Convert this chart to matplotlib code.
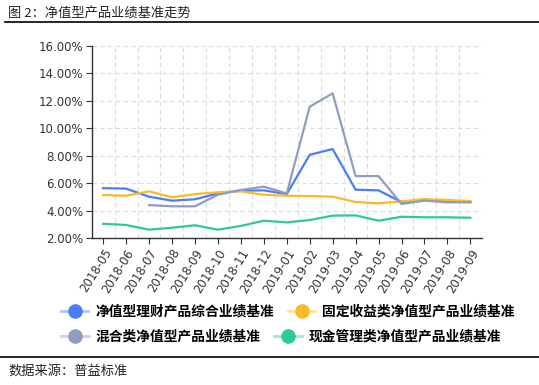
import numpy as np
import matplotlib
matplotlib.use("Agg")
from matplotlib import pyplot as plt
from matplotlib.lines import Line2D
from matplotlib.colors import to_rgb
from matplotlib.ticker import FuncFormatter, FixedLocator

plt.rcParams['font.family'] = ['DejaVu Sans', 'Noto Sans CJK SC']

months = ['2018-05', '2018-06', '2018-07', '2018-08', '2018-09', '2018-10',
          '2018-11', '2018-12', '2019-01', '2019-02', '2019-03', '2019-04',
          '2019-05', '2019-06', '2019-07', '2019-08', '2019-09']

# values in %
zonghe = [5.65, 5.62, 5.03, 4.74, 4.84, 5.27, 5.47, 5.49, 5.22, 8.08, 8.50,
          5.54, 5.49, 4.64, 4.76, 4.67, 4.64]
guding = [5.15, 5.10, 5.42, 4.98, 5.22, 5.35, 5.42, 5.17, 5.10, 5.08, 5.03,
          4.64, 4.55, 4.69, 4.86, 4.79, 4.71]
hunhe = [np.nan, np.nan, 4.42, 4.33, 4.33, 5.17, 5.52, 5.76, 5.27, 11.58,
         12.55, 6.53, 6.53, 4.50, 4.74, 4.62, 4.62]
xianjin = [3.06, 2.97, 2.63, 2.77, 2.95, 2.63, 2.90, 3.28, 3.16, 3.33, 3.65,
           3.67, 3.28, 3.57, 3.53, 3.53, 3.50]

names = ['净值型理财产品综合业绩基准', '固定收益类净值型产品业绩基准',
         '混合类净值型产品业绩基准', '现金管理类净值型产品业绩基准']
colors = ['#4a7ef6', '#fdb927', '#8f9dc3', '#2dcb92']
series = [zonghe, guding, hunhe, xianjin]

cjk = ['Noto Sans CJK SC', 'DejaVu Sans']


def lighten(c, f=0.5):
    r = np.array(to_rgb(c))
    return tuple(r + (1 - r) * f)


fig = plt.figure(figsize=(5.39, 3.85), dpi=100)
ax = fig.add_axes([0.170, 0.381, 0.724, 0.4995])

x = np.arange(len(months))
for vals, c in zip(series, colors):
    ax.plot(x, vals, color=c, lw=1.6, solid_joinstyle='round')

ax.set_xlim(-0.5, len(months) - 0.5)
ax.set_ylim(2, 16)
ax.set_yticks(np.arange(2, 16.1, 2))
ax.yaxis.set_major_formatter(FuncFormatter(lambda v, p: f'{v:.2f}%'))
ax.set_xticks(x)
ax.set_xticklabels(months, rotation=58, ha='right', rotation_mode='anchor')
ax.xaxis.set_minor_locator(FixedLocator(np.arange(0.5, len(months) - 1, 1)))

ax.grid(axis='y', which='major', color='#dcdcdc', ls=(0, (4, 3)), lw=0.8)
ax.grid(axis='x', which='minor', color='#dcdcdc', ls=(0, (4, 3)), lw=0.8)
ax.set_axisbelow(True)

for s in ['top', 'right']:
    ax.spines[s].set_visible(False)
for s in ['left', 'bottom']:
    ax.spines[s].set_color('#333333')
    ax.spines[s].set_linewidth(1.0)
ax.tick_params(axis='both', which='major', labelsize=8.5, colors='#333333',
               length=4, width=0.8, pad=2)
ax.tick_params(axis='x', which='minor', length=0)

handles = [Line2D([], [], color=lighten(c, 0.55), lw=2, marker='o', markersize=9.5,
                  markerfacecolor=c, markeredgecolor=c) for c in colors]
leg_kw = dict(frameon=False, ncol=2, handlelength=2.0, handletextpad=0.5,
              columnspacing=1.0, prop={'family': cjk, 'size': 9.9, 'weight': 'bold'})
fig.legend(handles[:2], names[:2], loc='center', bbox_to_anchor=(0.534, 1 - 312 / 385), **leg_kw)
fig.legend(handles[2:], names[2:], loc='center', bbox_to_anchor=(0.522, 1 - 337 / 385), **leg_kw)

fig.text(0.015, 1 - 13 / 385, '图 2：净值型产品业绩基准走势', family=cjk, fontsize=9.5,
         va='center', ha='left', color='#222222')
fig.add_artist(Line2D([0.01, 1.0], [1 - 22 / 385] * 2, color='black', lw=1.2))
fig.add_artist(Line2D([0.0, 1.0], [1 - 356.5 / 385] * 2, color='black', lw=1.2))
fig.text(0.015, 1 - 371 / 385, '数据来源：普益标准', family=cjk, fontsize=9.5,
         va='center', ha='left', color='#222222')

fig.savefig('out.png', dpi=100)
